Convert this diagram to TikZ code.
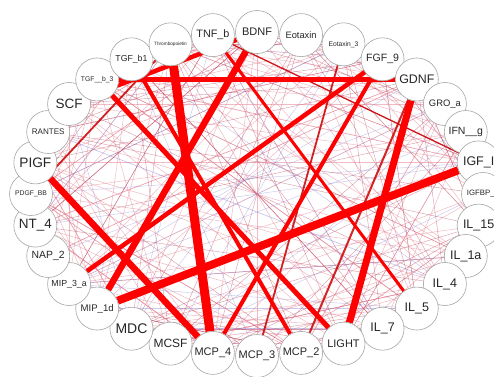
\documentclass[tikz,border=0pt]{standalone}
\usepackage{fontspec}
\setmainfont{Liberation Sans}
\usetikzlibrary{backgrounds}
\definecolor{pinkline}{RGB}{226,120,140}
\definecolor{darkline}{RGB}{170,30,60}
\definecolor{blueline}{RGB}{120,120,210}
\tikzset{
  cyt/.style={circle, draw=gray!70, fill=white, line width=0.6pt, minimum size=43pt, inner sep=0pt, text=black!85},
  fat/.style={draw=red, line width=#1},
  med/.style={draw=red!80!black, line width=#1, opacity=0.85},
  thinA/.style={draw=pinkline, line width=0.5pt, opacity=0.5},
  thinB/.style={draw=darkline, line width=0.4pt, opacity=0.45},
  thinC/.style={draw=blueline, line width=0.45pt, opacity=0.4}
}
\begin{document}
\begin{tikzpicture}[x=1pt,y=-1pt]
\useasboundingbox (0,0) rectangle (494,376);
\foreach \nm/\lab/\fs [count=\i from 0] in {
  BDNF/BDNF/11, Eotaxin/Eotaxin/9.3, Eotaxin3/Eotaxin\_3/6.7, FGF9/FGF\_9/10.6,
  GDNF/GDNF/12.4, GROa/GRO\_a/9.4, IFNg/IFN\_\_g/10.5, IGFI/IGF\_I/12.5,
  IGFBP/IGFBP\_3/7.8, IL15/IL\_15/12.5, IL1a/IL\_1a/12.5, IL4/IL\_4/12.5,
  IL5/IL\_5/12.5, IL7/IL\_7/12.5, LIGHT/LIGHT/11, MCP2/MCP\_2/11,
  MCP3/MCP\_3/11, MCP4/MCP\_4/11, MCSF/MCSF/12, MDC/MDC/14,
  MIP1d/MIP\_1d/9.6, MIP3a/MIP\_3\_a/8.8, NAP2/NAP\_2/10.4, NT4/NT\_4/13.5,
  PDGFBB/PDGF\_BB/6.8, PIGF/PIGF/13.7, RANTES/RANTES/8.1, SCF/SCF/13.5,
  TGFb3/TGF\_\_b\_3/6.8, TGFb1/TGF\_b1/8.7, Thrombo/Thrombopoietin/4.7, TNFb/TNF\_b/10.8}
{
  \pgfmathsetmacro\ang{90-\i*11.25}
  \node[cyt, alias=n\i, font=\fontsize{\fs}{\fs}\selectfont] (\nm)
    at ({257+226*cos(\ang)}, {194-162*sin(\ang)}) {\lab};
}
\begin{pgfonlayer}{background}
  \fill[white] (0,0) rectangle (494,376);
  \pgfmathsetseed{11}
  \foreach \k in {1,...,230} {
    \pgfmathrandominteger{\ea}{0}{31}
    \pgfmathrandominteger{\ed}{3}{16}
    \pgfmathtruncatemacro{\eb}{mod(\ea+\ed,32)}
    \pgfmathrandominteger{\ec}{1}{20}
    \ifnum\ec<13
      \draw[thinA] (n\ea) -- (n\eb);
    \else\ifnum\ec<19
      \draw[thinB] (n\ea) -- (n\eb);
    \else
      \draw[thinC] (n\ea) -- (n\eb);
    \fi\fi
  }
  \draw[thinC, line width=0.7pt] (RANTES) -- (IL4);
  \draw[thinC, line width=0.6pt] (IL4) -- (IL15);
  % medium edges
  \draw[med=1.3pt] (TNFb) -- (IGFI);
  \draw[med=1.8pt] (PDGFBB) -- (Thrombo);
  \draw[med=2pt] (GDNF) -- (MCP2);
  \draw[med=1.8pt] (Eotaxin3) -- (MCP3);
  % thick edges
  \draw[fat=3pt] (TNFb) -- (IL5);
  \draw[fat=4pt] (TGFb1) -- (MCP2);
  \draw[fat=4pt] (FGF9) -- (MCP4);
  \draw[fat=4.5pt] (FGF9) -- (MIP3a);
  \draw[fat=4.5pt] (SCF) -- (BDNF);
  \draw[fat=5pt] (TGFb3) -- (LIGHT);
  \draw[fat=5pt] (TGFb3) -- (GDNF);
  \draw[fat=6.5pt] (PIGF) -- (MCP4);
  \draw[fat=6.5pt] (BDNF) -- (MIP1d);
  \draw[fat=7pt] (GDNF) -- (LIGHT);
  \draw[fat=8pt] (MIP1d) -- (IGFI);
  \draw[fat=9pt] (Thrombo) -- (MCP4);
\end{pgfonlayer}
\end{tikzpicture}
\end{document}
